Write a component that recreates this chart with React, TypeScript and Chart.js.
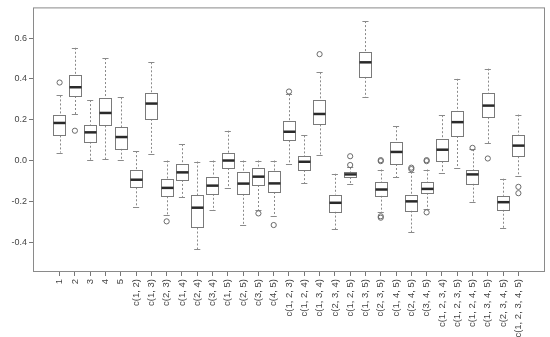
import React, { useEffect, useRef } from "react";
import { Chart, registerables } from "chart.js";

Chart.register(...registerables);

const categories = [
  "1", "2", "3", "4", "5",
  "c(1, 2)", "c(1, 3)", "c(2, 3)", "c(1, 4)", "c(2, 4)", "c(3, 4)", "c(1, 5)", "c(2, 5)", "c(3, 5)", "c(4, 5)",
  "c(1, 2, 3)", "c(1, 2, 4)", "c(1, 3, 4)", "c(2, 3, 4)", "c(1, 2, 5)", "c(1, 3, 5)", "c(2, 3, 5)", "c(1, 4, 5)", "c(2, 4, 5)", "c(3, 4, 5)",
  "c(1, 2, 3, 4)", "c(1, 2, 3, 5)", "c(1, 2, 4, 5)", "c(1, 3, 4, 5)", "c(2, 3, 4, 5)",
  "c(1, 2, 3, 4, 5)",
];

const whiskerHigh = [0.319, 0.552, 0.296, 0.502, 0.309, 0.046, 0.481, 0.0, 0.08, -0.005, 0.0, 0.146, 0.0, 0.0, 0.0, 0.325, 0.123, 0.432, -0.065, -0.034, 0.683, -0.044, 0.168, -0.055, -0.044, 0.222, 0.4, 0.055, 0.45, -0.089, 0.225];
const q3 = [0.225, 0.419, 0.175, 0.304, 0.162, -0.047, 0.332, -0.09, -0.017, -0.171, -0.079, 0.037, -0.058, -0.037, -0.053, 0.194, 0.021, 0.296, -0.167, -0.058, 0.531, -0.107, 0.091, -0.167, -0.105, 0.104, 0.241, -0.047, 0.329, -0.173, 0.123];
const median = [0.184, 0.359, 0.138, 0.233, 0.115, -0.094, 0.279, -0.134, -0.058, -0.231, -0.123, 0.0, -0.113, -0.079, -0.112, 0.141, -0.006, 0.228, -0.207, -0.068, 0.481, -0.142, 0.042, -0.2, -0.139, 0.053, 0.188, -0.068, 0.269, -0.204, 0.073];
const q1 = [0.123, 0.316, 0.092, 0.172, 0.058, -0.131, 0.204, -0.175, -0.095, -0.328, -0.163, -0.037, -0.163, -0.12, -0.154, 0.099, -0.047, 0.177, -0.25, -0.081, 0.41, -0.172, -0.017, -0.245, -0.158, -0.003, 0.12, -0.113, 0.212, -0.241, 0.021];
const whiskerLow = [0.039, 0.227, 0.002, 0.007, 0.002, -0.23, 0.033, -0.268, -0.178, -0.435, -0.244, -0.137, -0.317, -0.241, -0.272, -0.017, -0.112, 0.026, -0.336, -0.115, 0.311, -0.252, -0.083, -0.352, -0.239, -0.063, -0.035, -0.205, 0.086, -0.332, -0.076];
const outliers: number[][] = [
  [0.382], [0.146], [], [], [],
  [], [], [-0.298], [], [], [], [], [], [-0.259], [-0.316],
  [0.338], [], [0.521], [], [0.021, -0.022], [], [-0.003, 0.002, -0.273, -0.28], [], [-0.035, -0.042], [-0.003, 0.002, -0.254],
  [], [], [0.062], [0.01], [],
  [-0.129, -0.16],
];

const yTicks = [-0.4, -0.2, 0, 0.2, 0.4, 0.6];
const yTickLabels = ["-0.4", "-0.2", "0.0", "0.2", "0.4", "0.6"];

const FONT = "'Liberation Sans', Arial, sans-serif";

const boxPlugin = {
  id: "boxes",
  beforeDatasetsDraw(chart: any) {
    const { ctx, scales, chartArea } = chart;
    const xs = scales.x;
    const ys = scales.y;
    ctx.save();
    // frame
    ctx.strokeStyle = "#8a8a8a";
    ctx.lineWidth = 1;
    ctx.strokeRect(chartArea.left + 0.5, chartArea.top + 0.5, chartArea.right - chartArea.left - 1, chartArea.bottom - chartArea.top - 1);
    categories.forEach((_, i) => {
      const cx = xs.getPixelForValue(i + 1);
      const half = xs.getPixelForValue(i + 1.4) - cx;
      const staple = half * 0.5;
      const yH = ys.getPixelForValue(whiskerHigh[i]);
      const y3 = ys.getPixelForValue(q3[i]);
      const yM = ys.getPixelForValue(median[i]);
      const y1 = ys.getPixelForValue(q1[i]);
      const yL = ys.getPixelForValue(whiskerLow[i]);
      // whiskers
      ctx.strokeStyle = "#8a8a8a";
      ctx.lineWidth = 1;
      ctx.setLineDash([2, 2]);
      ctx.beginPath();
      ctx.moveTo(Math.round(cx) + 0.5, yH);
      ctx.lineTo(Math.round(cx) + 0.5, y3);
      ctx.moveTo(Math.round(cx) + 0.5, y1);
      ctx.lineTo(Math.round(cx) + 0.5, yL);
      ctx.stroke();
      ctx.setLineDash([]);
      // staples
      ctx.beginPath();
      ctx.moveTo(cx - staple, Math.round(yH) + 0.5);
      ctx.lineTo(cx + staple, Math.round(yH) + 0.5);
      ctx.moveTo(cx - staple, Math.round(yL) + 0.5);
      ctx.lineTo(cx + staple, Math.round(yL) + 0.5);
      ctx.stroke();
      // box
      ctx.fillStyle = "#ffffff";
      const bx = Math.round(cx - half) + 0.5;
      const bw = Math.round(2 * half);
      ctx.fillRect(bx, y3, bw, y1 - y3);
      ctx.strokeStyle = "#7a7a7a";
      ctx.strokeRect(bx, Math.round(y3) + 0.5, bw, Math.round(y1) - Math.round(y3));
      // median
      ctx.strokeStyle = "#2a2a2a";
      ctx.lineWidth = 2.5;
      ctx.beginPath();
      ctx.moveTo(bx, yM);
      ctx.lineTo(bx + bw, yM);
      ctx.stroke();
    });
    ctx.restore();
  },
};

export default function App() {
  const ref = useRef<HTMLCanvasElement | null>(null);
  useEffect(() => {
    if (!ref.current) return;
    const pts: { x: number; y: number }[] = [];
    outliers.forEach((arr, i) => arr.forEach((v) => pts.push({ x: i + 1, y: v })));
    const chart = new Chart(ref.current, {
      type: "scatter",
      data: {
        datasets: [
          {
            data: pts,
            pointStyle: "circle",
            pointRadius: 2.6,
            borderColor: "#6a6a6a",
            backgroundColor: "rgba(0,0,0,0)",
            borderWidth: 1,
          },
        ],
      },
      options: {
        animation: false,
        responsive: false,
        layout: { padding: { top: 5, right: 5, left: 0, bottom: 0 } },
        plugins: { legend: { display: false }, tooltip: { enabled: false } },
        scales: {
          x: {
            type: "linear",
            min: -0.74,
            max: 32.74,
            afterBuildTicks: (s: any) => {
              s.ticks = categories.map((_, i) => ({ value: i + 1 }));
            },
            afterFit: (s: any) => {
              s.height = 65;
            },
            border: { display: false },
            grid: { drawOnChartArea: false, drawTicks: true, tickLength: 4, color: "#777" },
            ticks: {
              autoSkip: false,
              maxRotation: 90,
              minRotation: 90,
              padding: 3,
              color: "#444",
              font: { family: FONT, size: 9.5 },
              callback: (v: any) => categories[Math.round(Number(v)) - 1] ?? "",
            },
          },
          y: {
            type: "linear",
            min: -0.546,
            max: 0.75,
            afterBuildTicks: (s: any) => {
              s.ticks = yTicks.map((v) => ({ value: v }));
            },
            afterFit: (s: any) => {
              s.width = 33;
            },
            border: { display: false },
            grid: { drawOnChartArea: false, drawTicks: true, tickLength: 4, color: "#777" },
            ticks: {
              padding: 2,
              color: "#444",
              font: { family: FONT, size: 9 },
              callback: (v: any) => {
                const k = yTicks.findIndex((t) => Math.abs(t - Number(v)) < 1e-6);
                return k >= 0 ? yTickLabels[k] : "";
              },
            },
          },
        },
      },
      plugins: [boxPlugin],
    });
    return () => chart.destroy();
  }, []);
  return (
    <div style={{ position: "fixed", left: 0, top: 0, width: 550, height: 337, background: "#fff" }}>
      <canvas ref={ref} width={550} height={337} style={{ display: "block" }} />
    </div>
  );
}
